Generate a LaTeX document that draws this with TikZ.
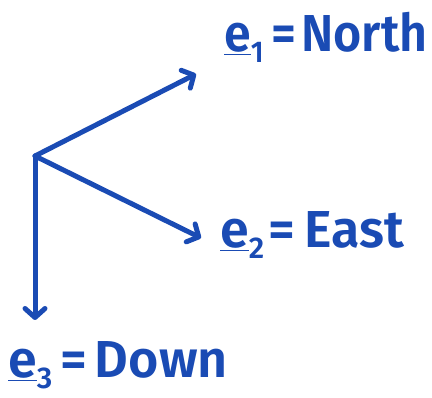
\documentclass[tikz,border=0pt]{standalone}
\usepackage{fontspec}
\setmainfont{Fira Sans}[BoldFont={Fira Sans SemiBold}]
\usetikzlibrary{arrows.meta}
\definecolor{ink}{RGB}{26,75,180}
\newcommand{\sub}[1]{\raisebox{-11pt}{\fontsize{30}{30}\selectfont #1}}
\begin{document}
\begin{tikzpicture}[x=1pt,y=1pt,
  vec/.style={draw=ink, line width=5pt, line cap=round, line join=round,
    -{Straight Barb[length=9pt,width=20pt,line cap=round,line join=round]}},
  lab/.style={text=ink, inner sep=0pt, anchor=base west,
    font=\fontsize{52}{52}\selectfont\bfseries}]
\useasboundingbox (0,0) rectangle (432,398);
\coordinate (O) at (35,242);
\coordinate (t1) at (196,324);
\coordinate (t2) at (201,160);
\coordinate (t3) at (35,78);
\draw[vec] (O) -- (t1);
\draw[vec] (O) -- (t2);
\draw[vec] (O) -- (t3);
\node[lab] (l1) at (224,346) {\scalebox{0.93}[1]{\underline{e}\sub{1}\hspace{8pt}=\hspace{6pt}North}};
\node[lab] (l2) at (220,150) {\scalebox{1.0}[1]{\underline{e}\sub{2}\hspace{4pt}=\hspace{10pt}East}};
\node[lab] (l3) at (8,20) {\scalebox{1.0}[1]{\underline{e}\sub{3}\hspace{8pt}=\hspace{8pt}Down}};
\end{tikzpicture}
\end{document}
